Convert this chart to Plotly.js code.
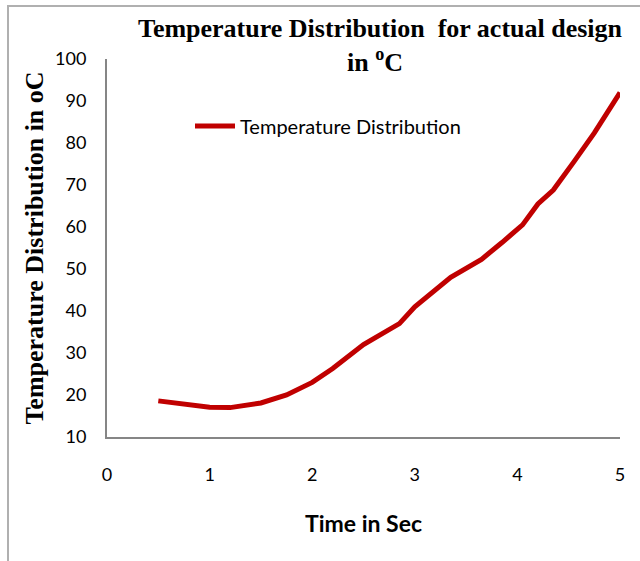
<!DOCTYPE html>
<html>
<head>
<meta charset="utf-8">
<script src="https://cdn.plot.ly/plotly-3.0.1.min.js"></script>
<style>
  html, body { margin: 0; padding: 0; background: #fff; }
  #wrap { position: relative; width: 640px; height: 561px; overflow: hidden; }
  #chart { width: 640px; height: 561px; }
  #frame { position: absolute; left: 7px; top: 5px; width: 700px; height: 700px;
           border-left: 2px solid #b0b0b0; border-top: 2px solid #b0b0b0; pointer-events: none; }
</style>
</head>
<body>
<div id="wrap">
  <div id="chart"></div>
  <div id="frame"></div>
</div>
<script>
// Data
const timeSec = [0.5, 1.0, 1.2, 1.5, 1.75, 2.0, 2.2, 2.5, 2.85, 3.0, 3.35, 3.65, 3.85, 4.05, 4.2, 4.35, 4.55, 4.75, 5.0];
const temperature = [18.6, 17.1, 17.0, 18.1, 20.0, 23.0, 26.3, 32.0, 37.0, 41.0, 48.0, 52.3, 56.3, 60.5, 65.5, 68.8, 75.5, 82.4, 92.0];
const xTicks = [0, 1, 2, 3, 4, 5];
const yTicks = [10, 20, 30, 40, 50, 60, 70, 80, 90, 100];

const seriesName = "Temperature Distribution";
const titleLine1 = "Temperature Distribution  for actual design";
const titleLine2 = "in <sup>o</sup>C";
const xTitle = "Time in Sec";
const yTitle = "Temperature Distribution in oC";

const sans = "Lato, 'Open Sans', sans-serif";
const serif = "'Liberation Serif', 'DejaVu Serif', serif";

const trace = {
  x: timeSec,
  y: temperature,
  type: "scatter",
  mode: "lines",
  name: seriesName,
  line: { color: "#c00000", width: 5 },
  hoverinfo: "skip"
};

const layout = {
  width: 640,
  height: 561,
  paper_bgcolor: "#ffffff",
  plot_bgcolor: "#ffffff",
  margin: { l: 107, r: 20, t: 59, b: 124 },
  showlegend: true,
  title: {
    text: titleLine1,
    font: { family: serif, size: 26, color: "#000000", weight: "bold" },
    xref: "container", yref: "container",
    x: 380 / 640, xanchor: "center",
    y: 1 - 28 / 561, yanchor: "middle"
  },
  annotations: [{
    text: "<b>" + titleLine2 + "</b>",
    xref: "paper", yref: "paper",
    x: (375 - 107) / 513, xanchor: "center",
    y: 1 + (59 - 60) / 378, yanchor: "middle",
    showarrow: false,
    font: { family: serif, size: 26, color: "#000000" }
  }],
  legend: {
    x: (190 - 107) / 513, xanchor: "left",
    y: 1 - (126 - 59) / 378, yanchor: "middle",
    itemwidth: 40,
    bgcolor: "rgba(0,0,0,0)",
    font: { family: sans, size: 20, color: "#000000" }
  },
  xaxis: {
    range: [0, 5],
    tickvals: xTicks,
    ticktext: xTicks.map(String),
    showgrid: false,
    zeroline: false,
    showline: true,
    linecolor: "#868686",
    linewidth: 2,
    ticks: "",
    ticklabelstandoff: 20,
    tickfont: { family: sans, size: 18, color: "#000000" },
    title: { text: xTitle, font: { family: sans, size: 23, color: "#000000", weight: "bold" }, standoff: 32 },
    fixedrange: true
  },
  yaxis: {
    range: [10, 100],
    tickvals: yTicks,
    ticktext: yTicks.map(String),
    showgrid: false,
    zeroline: false,
    showline: true,
    linecolor: "#868686",
    linewidth: 2,
    ticks: "",
    ticklabelstandoff: 15,
    tickfont: { family: sans, size: 18, color: "#000000" },
    title: { text: yTitle, font: { family: serif, size: 26, color: "#000000", weight: "bold" }, standoff: 4 },
    fixedrange: true
  }
};

Plotly.newPlot("chart", [trace], layout, { displayModeBar: false, staticPlot: true });
</script>
</body>
</html>
